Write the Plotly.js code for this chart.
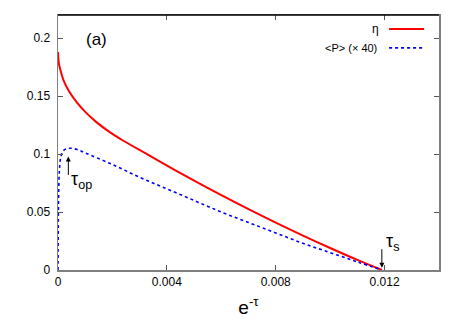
<!DOCTYPE html>
<html>
<head>
<meta charset="utf-8">
<script src="https://cdn.plot.ly/plotly-3.0.1.min.js"></script>
<style>
  body { margin: 0; background: #fff; }
  #plotArea { width: 463px; height: 324px; }
</style>
</head>
<body>
<div id="plotArea"></div>
<script>
// values
const etaX = [0, 0.00003, 0.0001, 0.0002, 0.0004, 0.0007, 0.001, 0.0014, 0.0019, 0.0024, 0.0033, 0.0045, 0.006, 0.007, 0.008, 0.009, 0.010, 0.011, 0.0119];
const etaY = [0.188, 0.1785, 0.1716, 0.1639, 0.1544, 0.1443, 0.1364, 0.1278, 0.1189, 0.1115, 0.0996, 0.0836, 0.0646, 0.0525, 0.0409, 0.0297, 0.0190, 0.0087, 0];

const powX = [0, 0.00002, 0.00005, 0.0001, 0.0002, 0.0004, 0.0007, 0.001, 0.002, 0.003, 0.004, 0.005, 0.006, 0.007, 0.008, 0.009, 0.010, 0.011, 0.0119];
const powY = [0, 0.06, 0.085, 0.097, 0.103, 0.105, 0.104, 0.101, 0.091, 0.080, 0.070, 0.060, 0.050, 0.041, 0.032, 0.023, 0.015, 0.007, 0];

const xTicks = [0, 0.004, 0.008, 0.012];
const xTickText = ['0', '0.004', '0.008', '0.012'];
const yTicks = [0, 0.05, 0.1, 0.15, 0.2];
const yTickText = ['0', '0.05', '0.1', '0.15', '0.2'];

const tauOp = [0.00038, 0.098];
const tauS = [0.0119, 0.002];

const font = 'Liberation Sans, Arial, Helvetica, sans-serif';

const data = [{
    x: etaX,
    y: etaY,
    type: 'scatter',
    mode: 'lines',
    line: {color: '#ff0000', width: 2, shape: 'spline', smoothing: 0.8},
    name: 'η'
},
{
    x: powX,
    y: powY,
    type: 'scatter',
    mode: 'lines',
    line: {color: '#0000ff', width: 1.6, dash: 'dot', shape: 'spline'},
    name: '<P> (× 40)'
}];

const axisCommon = {
    showgrid: false,
    zeroline: false,
    showline: true,
    linecolor: '#808080',
    linewidth: 1.5,
    mirror: 'ticks',
    ticks: 'inside',
    ticklen: 5,
    tickcolor: '#555',
    tickfont: {family: font, size: 12, color: '#000'}
};

const layout = {
    width: 463,
    height: 324,
    margin: {l: 58, r: 24, t: 15, b: 54},
    paper_bgcolor: '#fff',
    plot_bgcolor: '#fff',
    showlegend: false,
    font: {family: font, color: '#000'},
    xaxis: Object.assign({}, axisCommon, {
        range: [0, 0.014],
        tickvals: xTicks,
        ticktext: xTickText,
        title: {text: 'e<sup>-τ</sup>', font: {family: font, size: 19}, standoff: 13}
    }),
    yaxis: Object.assign({}, axisCommon, {
        range: [0, 0.22],
        tickvals: yTicks,
        ticktext: yTickText,
        ticklabelstandoff: 4
    }),
    shapes: [
        // top border is drawn black in the original
        {type: 'line', xref: 'paper', yref: 'paper', x0: 0, x1: 1, y0: 1, y1: 1, line: {color: '#000', width: 1.5}},
        // legend samples
        {type: 'line', xref: 'paper', yref: 'paper', x0: 0.869, x1: 0.961, y0: 0.945, y1: 0.945, line: {color: '#ff0000', width: 2}},
        {type: 'line', xref: 'paper', yref: 'paper', x0: 0.869, x1: 0.961, y0: 0.871, y1: 0.871, line: {color: '#0000ff', width: 1.6, dash: 'dot'}}
    ],
    annotations: [
        {text: '(a)', xref: 'paper', yref: 'paper', x: 0.1, y: 0.905, showarrow: false,
         xanchor: 'center', yanchor: 'middle', font: {size: 17}},
        {text: 'η', xref: 'paper', yref: 'paper', x: 0.848, y: 0.945, showarrow: false,
         xanchor: 'right', yanchor: 'middle', font: {size: 12}},
        {text: '<P> (× 40)', xref: 'paper', yref: 'paper', x: 0.843, y: 0.871, showarrow: false,
         xanchor: 'right', yanchor: 'middle', font: {size: 11}},
        // tau_op arrow and label
        {x: tauOp[0], y: tauOp[1], xref: 'x', yref: 'y', text: '', showarrow: true,
         ax: 0, ay: 20, arrowhead: 2, arrowsize: 1, arrowwidth: 1, arrowcolor: '#000'},
        {x: tauOp[0], y: tauOp[1], xref: 'x', yref: 'y', text: 'τ<sub>op</sub>', showarrow: false,
         xanchor: 'left', yanchor: 'top', xshift: 1, yshift: -11, font: {size: 18}},
        // tau_s arrow and label
        {x: tauS[0], y: tauS[1], xref: 'x', yref: 'y', text: '', showarrow: true,
         ax: 0, ay: -20, arrowhead: 2, arrowsize: 1, arrowwidth: 1, arrowcolor: '#000'},
        {x: tauS[0], y: tauS[1], xref: 'x', yref: 'y', text: 'τ<sub>s</sub>', showarrow: false,
         xanchor: 'left', yanchor: 'bottom', xshift: 2, yshift: 12, font: {size: 18}}
    ]
};

Plotly.newPlot('plotArea', data, layout, {displayModeBar: false, staticPlot: true});
</script>
</body>
</html>
